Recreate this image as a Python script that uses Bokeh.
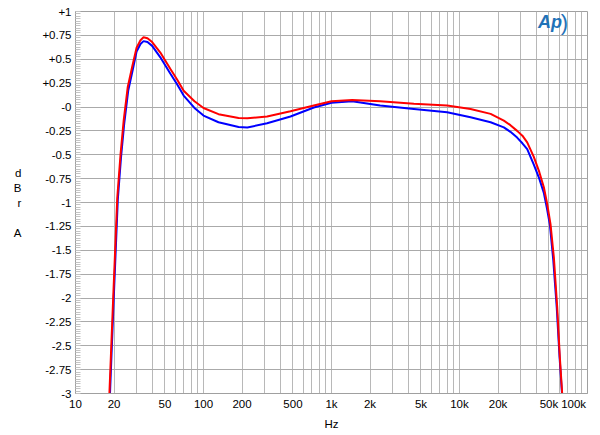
import numpy as np
from bokeh.plotting import figure
from bokeh.models import FixedTicker, Label, Range1d
from bokeh.embed import file_html
from bokeh.resources import INLINE

# ---- data ----
freq_red = [18.4, 19.7, 21.2, 22.5, 23.8, 25.6, 27.7, 30, 32.2, 34.0, 36.5, 39.7, 46, 55, 62, 70, 85,
            100, 131, 188, 220, 314, 478, 728, 1000, 1450, 2400, 4400, 8000, 12200, 17500,
            22200, 25000, 28200, 31000, 33800, 38000, 42000, 45600, 48500, 51400, 54600, 58000, 60800, 63400]
db_red = [-3.0, -2.0, -0.95, -0.49, -0.14, 0.21, 0.42, 0.62, 0.70, 0.73, 0.72, 0.68, 0.57, 0.40, 0.29, 0.17, 0.06,
          -0.01, -0.075, -0.115, -0.118, -0.10, -0.045, 0.015, 0.06, 0.074, 0.06, 0.035, 0.015, -0.02, -0.072,
          -0.143, -0.19, -0.25, -0.30, -0.37, -0.52, -0.68, -0.84, -1.02, -1.226, -1.575, -2.1, -2.62, -3.0]

freq_blue = [18.6, 19.9, 21.4, 22.7, 24.0, 25.8, 27.9, 30, 32.2, 34.0, 36.5, 39.7, 46, 55, 62, 70, 85,
             100, 131, 188, 220, 314, 478, 728, 1000, 1450, 2400, 4400, 8000, 12200, 17500,
             22200, 25000, 28200, 31000, 33800, 38000, 42000, 45600, 48200, 50800, 54000, 57500, 60500, 63200]
db_blue = [-3.0, -2.0, -0.97, -0.52, -0.18, 0.17, 0.38, 0.58, 0.66, 0.69, 0.68, 0.64, 0.52, 0.35, 0.24, 0.12, -0.01,
           -0.09, -0.16, -0.21, -0.215, -0.17, -0.10, -0.005, 0.045, 0.06, 0.015, -0.02, -0.055, -0.108, -0.16,
           -0.213, -0.26, -0.32, -0.38, -0.44, -0.60, -0.75, -0.90, -1.06, -1.23, -1.60, -2.1, -2.62, -3.0]

x_ticks = [10, 20, 50, 100, 200, 500, 1000, 2000, 5000, 10000, 20000, 50000, 100000]
x_tick_labels = ["10", "20", "50", "100", "200", "500", "1k", "2k", "5k", "10k", "20k", "50k",
                 "100k" + "\u00a0" * 2]
x_grid = [10, 20, 30, 40, 50, 60, 70, 80, 90,
          100, 200, 300, 400, 500, 600, 700, 800, 900,
          1000, 2000, 3000, 4000, 5000, 6000, 7000, 8000, 9000,
          10000, 20000, 30000, 40000, 50000, 60000, 70000, 80000, 90000, 100000]
y_ticks = [-3, -2.75, -2.5, -2.25, -2, -1.75, -1.5, -1.25, -1, -0.75, -0.5, -0.25, 0,
           0.25, 0.5, 0.75, 1]
y_tick_labels = ["-3", "-2.75", "-2.5", "-2.25", "-2", "-1.75", "-1.5", "-1.25", "-1", "-0.75",
                 "-0.5", "-0.25", "-0", "+0.25", "+0.5", "+0.75", "+1"]

FONT = "Liberation Sans"
FS = "11.5px"

p = figure(x_axis_type="log", x_range=Range1d(10, 100000), y_range=Range1d(-3, 1),
           frame_width=512, frame_height=382,
           min_border_left=75, min_border_right=5, min_border_top=11, min_border_bottom=34,
           output_backend="svg", toolbar_location=None, background_fill_color="white",
           border_fill_color="white")

p.outline_line_color = "#a0a0a0"
p.outline_line_width = 1

# x axis
p.xaxis.ticker = FixedTicker(ticks=x_ticks)
p.xaxis.major_label_overrides = {t: l for t, l in zip(x_ticks, x_tick_labels)}
p.xaxis.major_tick_in = 0
p.xaxis.major_tick_out = 0
p.xaxis.minor_tick_in = 0
p.xaxis.minor_tick_out = 0
p.xaxis.axis_line_color = "#a0a0a0"
p.xaxis.major_label_standoff = 4
p.xaxis.major_label_text_font = FONT
p.xaxis.major_label_text_font_size = FS
p.xaxis.major_label_text_color = "black"
p.xaxis.axis_label = "Hz"
p.xaxis.axis_label_standoff = 5
p.xaxis.axis_label_text_font = FONT
p.xaxis.axis_label_text_font_size = FS
p.xaxis.axis_label_text_font_style = "normal"
p.xaxis.axis_label_text_color = "black"

# y axis
minor = list(np.round(np.arange(-3, 1.0001, 0.025), 3))
p.yaxis.ticker = FixedTicker(ticks=y_ticks, minor_ticks=minor)
p.yaxis.major_label_overrides = {t: l for t, l in zip(y_ticks, y_tick_labels)}
p.yaxis.major_tick_in = 0
p.yaxis.major_tick_out = 0
p.yaxis.minor_tick_in = 5
p.yaxis.minor_tick_out = 0
p.yaxis.minor_tick_line_color = "#c4c4c4"
p.yaxis.axis_line_color = "#a0a0a0"
p.yaxis.major_label_standoff = 4
p.yaxis.major_label_text_font = FONT
p.yaxis.major_label_text_font_size = FS
p.yaxis.major_label_text_color = "black"
p.yaxis.axis_label = "d\nB\nr\n\nA"
p.yaxis.axis_label_orientation = "horizontal"
p.yaxis.axis_label_standoff = 18
p.yaxis.axis_label_text_font = FONT
p.yaxis.axis_label_text_font_size = FS
p.yaxis.axis_label_text_font_style = "normal"
p.yaxis.axis_label_text_color = "black"
p.yaxis.axis_label_text_line_height = 1.25

# grids
p.xgrid.ticker = FixedTicker(ticks=x_grid)
p.xgrid.grid_line_color = "#b8b8b8"
p.xgrid.grid_line_width = 1
p.ygrid.grid_line_color = "#aaaaaa"
p.ygrid.grid_line_width = 1

# curves
p.line(freq_blue, db_blue, line_color="#0000ff", line_width=2)
p.line(freq_red, db_red, line_color="#ff0000", line_width=2)

# Ap logo
p.add_layout(Label(x=51000, y=0.885, text="Ap", text_align="center", text_baseline="middle",
                   text_font=FONT, text_font_size="18px", text_font_style="bold italic",
                   text_color="#1f72b8"))
p.add_layout(Label(x=66000, y=0.89, text=")", text_align="center", text_baseline="middle",
                   text_font=FONT, text_font_size="22px",
                   text_color="#1f72b8"))

open("out.html", "w").write(file_html(p, INLINE))
